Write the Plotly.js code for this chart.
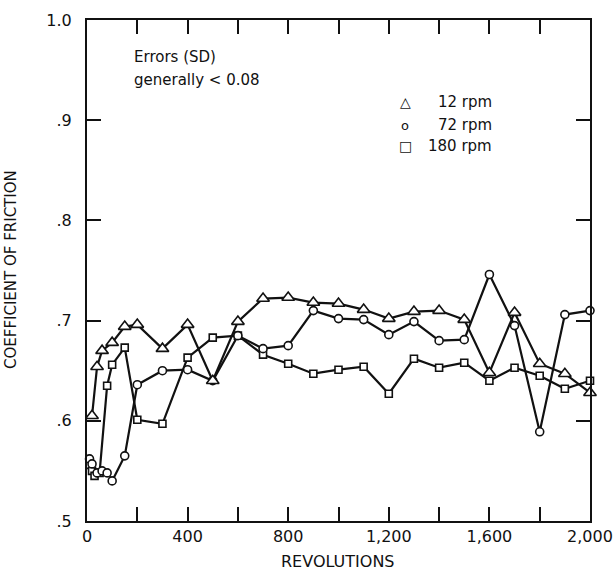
<!DOCTYPE html>
<html>
<head>
<meta charset="utf-8">
<script src="https://cdn.plot.ly/plotly-3.0.1.min.js"></script>
<style>html,body{margin:0;padding:0;background:#fff;}#chart{width:616px;height:575px;}</style>
</head>
<body>
<div id="chart"></div>
<script>
// Revolutions and coefficient of friction for each speed
const rev12 = [20, 40, 60, 100, 150, 200, 300, 400, 500, 600, 700, 800, 900, 1000, 1100, 1200, 1300, 1400, 1500, 1600, 1700, 1800, 1900, 2000];
const cof12 = [0.605, 0.654, 0.670, 0.678, 0.694, 0.696, 0.672, 0.696, 0.640, 0.699, 0.722, 0.723, 0.718, 0.717, 0.711, 0.702, 0.709, 0.710, 0.701, 0.648, 0.708, 0.657, 0.647, 0.628];

const rev72 = [10, 20, 40, 60, 80, 100, 150, 200, 300, 400, 500, 600, 700, 800, 900, 1000, 1100, 1200, 1300, 1400, 1500, 1600, 1700, 1800, 1900, 2000];
const cof72 = [0.562, 0.557, 0.548, 0.550, 0.548, 0.540, 0.565, 0.636, 0.650, 0.651, 0.640, 0.685, 0.672, 0.675, 0.710, 0.702, 0.701, 0.686, 0.699, 0.680, 0.681, 0.746, 0.695, 0.589, 0.706, 0.710];

const rev180 = [10, 20, 30, 50, 80, 100, 150, 200, 300, 400, 500, 600, 700, 800, 900, 1000, 1100, 1200, 1300, 1400, 1500, 1600, 1700, 1800, 1900, 2000];
const cof180 = [0.556, 0.550, 0.545, 0.548, 0.635, 0.656, 0.673, 0.601, 0.597, 0.663, 0.683, 0.685, 0.666, 0.657, 0.647, 0.651, 0.654, 0.627, 0.662, 0.653, 0.658, 0.640, 0.653, 0.645, 0.632, 0.640];

const xTickVals = [0, 200, 400, 600, 800, 1000, 1200, 1400, 1600, 1800, 2000];
const xTickText = ["0", "", "400", "", "800", "", "1,200", "", "1,600", "", "2,000"];
const yTickVals = [0.5, 0.6, 0.7, 0.8, 0.9, 1.0];
const yTickText = [".5", ".6", ".7", ".8", ".9", "1.0"];

const legendNames = ["12 rpm", "72 rpm", "180 rpm"];
const legendSymbols = ["\u25B3", "o", "\u25A1"];

const INK = "#111";
const FONT = "DejaVu Sans, sans-serif";

function series(x, y, symbol, size) {
  return {
    x: x, y: y, type: "scatter", mode: "lines+markers",
    line: {color: INK, width: 2.2},
    marker: {symbol: symbol, size: size, color: "#fff", line: {color: INK, width: 1.6}},
    cliponaxis: false, showlegend: false
  };
}

const data = [
  series(rev180, cof180, "square", 7),
  series(rev72, cof72, "circle", 8),
  series(rev12, cof12, "triangle-up", 11)
];

const L = 87, R = 590, T = 20, B = 521;
function px(x) { return (x - L) / (R - L); }
function py(y) { return (B - y) / (B - T); }

const annotations = [
  {text: "Errors (SD)", x: px(132), y: py(57), xanchor: "left", yanchor: "middle"},
  {text: "generally < 0.08", x: px(132), y: py(80), xanchor: "left", yanchor: "middle"},
  {text: "REVOLUTIONS", x: px(338), y: py(561), xanchor: "center", yanchor: "middle", size: 16},
  {text: "COEFFICIENT OF FRICTION", x: px(11), y: py(270), xanchor: "center", yanchor: "middle", textangle: -90, size: 15}
];
const legendY = [102, 125, 146];
legendNames.forEach(function (n, i) {
  annotations.push({text: legendSymbols[i], x: px(405), y: py(legendY[i]), xanchor: "center", yanchor: "middle", size: i === 1 ? 13 : 14});
  annotations.push({text: n, x: px(494), y: py(legendY[i]), xanchor: "right", yanchor: "middle"});
});

const layout = {
  width: 616, height: 575,
  margin: {l: L, r: 616 - R, t: T, b: 575 - B},
  paper_bgcolor: "#fff", plot_bgcolor: "#fff",
  font: {family: FONT, color: INK, size: 16},
  xaxis: {
    range: [0, 2000], tickvals: xTickVals, ticktext: xTickText,
    ticks: "inside", ticklen: 14, tickwidth: 2, tickcolor: INK,
    showline: true, linewidth: 2, linecolor: INK, mirror: "allticks",
    showgrid: false, zeroline: false, tickfont: {size: 16, family: FONT}
  },
  yaxis: {
    range: [0.5, 1.0], tickvals: yTickVals, ticktext: yTickText,
    ticks: "inside", ticklen: 14, tickwidth: 2, tickcolor: INK,
    showline: true, linewidth: 2, linecolor: INK, mirror: "allticks",
    showgrid: false, zeroline: false, tickfont: {size: 16, family: FONT},
    ticklabelstandoff: 10
  },
  annotations: annotations.map(function (a) {
    return {
      text: a.text, x: a.x, y: a.y, xref: "paper", yref: "paper",
      xanchor: a.xanchor, yanchor: a.yanchor, showarrow: false,
      textangle: a.textangle || 0,
      font: {family: FONT, size: a.size || 15, color: INK}
    };
  })
};

Plotly.newPlot("chart", data, layout, {staticPlot: true, displayModeBar: false});
</script>
</body>
</html>
